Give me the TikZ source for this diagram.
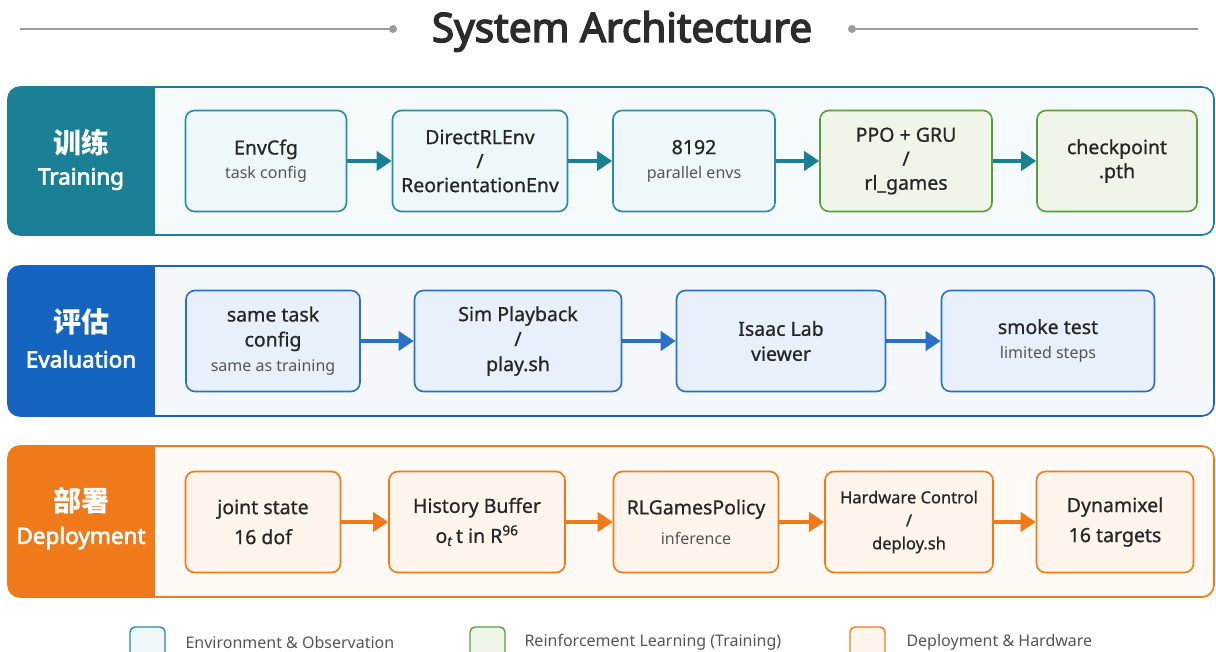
\documentclass[tikz,border=0pt]{standalone}
\usepackage{fontspec}
\setmainfont{Noto Sans}
\newfontfamily\titlefont{Noto Sans}[FakeBold=3.5]
\newfontfamily\labelfont{Noto Sans}[FakeBold=3]
\newfontfamily\boxfont{Noto Sans}[FakeBold=0.8]
\newfontfamily\cjk{Noto Sans CJK SC}
\usetikzlibrary{arrows.meta,positioning}

\definecolor{trainC}{HTML}{1B7F96}
\definecolor{trainBox}{HTML}{2B8BA6}
\definecolor{trainFill}{HTML}{EEF8FB}
\definecolor{trainBand}{HTML}{F5FBFD}
\definecolor{rlC}{HTML}{5A9E3C}
\definecolor{rlFill}{HTML}{EFF6E9}
\definecolor{evalC}{HTML}{1565C0}
\definecolor{evalBox}{HTML}{2A70C6}
\definecolor{evalFill}{HTML}{E8F1FB}
\definecolor{evalBand}{HTML}{F4F8FD}
\definecolor{depC}{HTML}{F07A1A}
\definecolor{depFill}{HTML}{FFF5EC}
\definecolor{depBand}{HTML}{FFFAF6}
\definecolor{subgray}{HTML}{555555}
\definecolor{titlegray}{HTML}{2B2B2B}
\definecolor{linegray}{HTML}{9B9B9B}

\newcommand{\subtxt}[1]{{\rmfamily\fontsize{16}{20}\selectfont\color{subgray}#1}}

\tikzset{
    stagebox/.style={draw, rounded corners=9pt, line width=1.6pt, align=center,
        minimum height=101pt, inner sep=2pt, text=black!85,
        font=\boxfont\fontsize{19.5}{24}\selectfont},
    trainbox/.style={stagebox, draw=trainBox, fill=trainFill},
    rlbox/.style={stagebox, draw=rlC, fill=rlFill},
    evalbox/.style={stagebox, draw=evalBox, fill=evalFill, font=\boxfont\fontsize{19.5}{25}\selectfont},
    depbox/.style={stagebox, draw=depC, fill=depFill, font=\boxfont\fontsize{19.5}{30}\selectfont},
    flow/.style={line width=4pt, -{Triangle[length=15pt,width=19pt]}},
    bandzh/.style={text=white, font=\cjk\bfseries\fontsize{28}{32}\selectfont},
    banden/.style={text=white, font=\labelfont\fontsize{22.5}{27}\selectfont},
    legendtext/.style={anchor=west, text=subgray, font=\fontsize{16}{20}\selectfont},
}

\begin{document}
\begin{tikzpicture}[x=1pt,y=-1pt]
    \useasboundingbox (0,0) rectangle (1216,652);

    % Title with side rules
    \node[anchor=base, text=titlegray, font=\titlefont\fontsize{40.5}{45}\selectfont] (title) at (622,42) {System Architecture};
    \coordinate (ruleLa) at (20,29);
    \coordinate (ruleLb) at (393,29);
    \coordinate (ruleRa) at (852,29);
    \coordinate (ruleRb) at (1198,29);
    \draw[linegray, line width=1.6pt] (ruleLa) -- (ruleLb);
    \draw[linegray, line width=1.6pt] (ruleRa) -- (ruleRb);
    \fill[linegray] (ruleLb) circle (4pt);
    \fill[linegray] (ruleRa) circle (4pt);

    % Draw training band
    \begin{scope}
        \clip[rounded corners=12pt] (8,87) rectangle (1214,235);
        \fill[trainBand] (8,87) rectangle (1214,235);
        \fill[trainC] (8,87) rectangle (155,235);
    \end{scope}
    \draw[trainC, line width=1.6pt, rounded corners=12pt] (8,87) rectangle (1214,235);
    \node[bandzh] (trainzh) at (81,143) {训练};
    \node[banden] (trainen) at (81,179) {Training};

    % Training stages
    \node[trainbox, minimum width=161pt] (envcfg) at (266,161) {EnvCfg\\\subtxt{task config}};
    \node[trainbox, minimum width=175pt] (directenv) at (480,161) {DirectRLEnv\\/\\ReorientationEnv};
    \node[trainbox, minimum width=162pt] (parenvs) at (694,161) {8192\\\subtxt{parallel envs}};
    \node[rlbox, minimum width=172pt] (ppo) at (906,161) {PPO + GRU\\/\\rl\_games};
    \node[rlbox, minimum width=160pt] (ckpt) at (1117,161) {checkpoint\\.pth};

    % arrows between training stages
    \draw[flow, trainC] (envcfg) -- (directenv);
    \draw[flow, trainC] (directenv) -- (parenvs);
    \draw[flow, trainC] (parenvs) -- (ppo);
    \draw[flow, trainC] (ppo) -- (ckpt);

    % Draw evaluation band
    \begin{scope}
        \clip[rounded corners=12pt] (8,266) rectangle (1214,416);
        \fill[evalBand] (8,266) rectangle (1214,416);
        \fill[evalC] (8,266) rectangle (155,416);
    \end{scope}
    \draw[evalC, line width=1.6pt, rounded corners=12pt] (8,266) rectangle (1214,416);
    \node[bandzh] (evalzh) at (81,322) {评估};
    \node[banden] (evalen) at (81,359) {Evaluation};

    % Evaluation stages
    \node[evalbox, minimum width=174pt] (sametask) at (273,341) {same task\\config\\\subtxt{same as training}};
    \node[evalbox, minimum width=207pt] (simplay) at (518,341) {Sim Playback\\/\\play.sh};
    \node[evalbox, minimum width=209pt] (isaac) at (781,341) {Isaac Lab\\viewer};
    \node[evalbox, minimum width=213pt] (smoke) at (1048,341) {smoke test\\\subtxt{limited steps}};

    % arrows between evaluation stages
    \draw[flow, evalBox] (sametask) -- (simplay);
    \draw[flow, evalBox] (simplay) -- (isaac);
    \draw[flow, evalBox] (isaac) -- (smoke);

    % Draw deployment band
    \begin{scope}
        \clip[rounded corners=12pt] (8,446) rectangle (1214,597);
        \fill[depBand] (8,446) rectangle (1214,597);
        \fill[depC] (8,446) rectangle (155,597);
    \end{scope}
    \draw[depC, line width=1.6pt, rounded corners=12pt] (8,446) rectangle (1214,597);
    \node[bandzh] (depzh) at (81,501) {部署};
    \node[banden] (depen) at (81,538) {Deployment};

    % Deployment stages
    \node[depbox, minimum width=155pt] (joint) at (263,522) {joint state\\16 dof};
    \node[depbox, minimum width=176pt] (history) at (477,522) {History Buffer\\o\textsubscript{\textit{t}}\,t in R\textsuperscript{96}};
    \node[depbox, minimum width=165pt] (policy) at (696,522) {RLGamesPolicy\\\subtxt{inference}};
    \node[depbox, minimum width=168pt, font=\boxfont\fontsize{16.5}{23}\selectfont] (hwctrl) at (909,522) {Hardware Control\\/\\deploy.sh};
    \node[depbox, minimum width=157pt] (dynamixel) at (1115,522) {Dynamixel\\16 targets};

    % arrows between deployment stages
    \draw[flow, depC] (joint) -- (history);
    \draw[flow, depC] (history) -- (policy);
    \draw[flow, depC] (policy) -- (hwctrl);
    \draw[flow, depC] (hwctrl) -- (dynamixel);

    % Legend
    \filldraw[draw=trainBox, fill=trainFill, line width=1.4pt, rounded corners=5pt] (130,652) |- (165,627) -- (165,652);
    \node[legendtext] (legenv) at (182,642) {Environment \& Observation};
    \filldraw[draw=rlC, fill=rlFill, line width=1.4pt, rounded corners=5pt] (470,652) |- (505,627) -- (505,652);
    \node[legendtext] (legrl) at (521,642) {Reinforcement Learning (Training)};
    \filldraw[draw=depC, fill=depFill, line width=1.4pt, rounded corners=5pt] (850,652) |- (885,627) -- (885,652);
    \node[legendtext] (legdep) at (903,642) {Deployment \& Hardware};
\end{tikzpicture}
\end{document}
